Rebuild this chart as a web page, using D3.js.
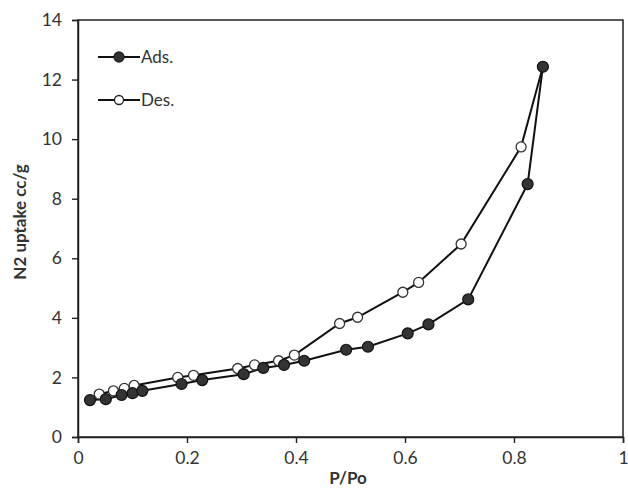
<!DOCTYPE html>
<html><head><meta charset="utf-8">
<script src="https://cdn.jsdelivr.net/npm/d3@7"></script>
<style>
body{margin:0;background:#fff;}
svg{display:block;}
text{font-family:Lato, "Open Sans", sans-serif;fill:#333;}
</style></head>
<body>
<svg id="c" width="628" height="488"></svg>
<script>
const adsX = [0.022,0.051,0.080,0.100,0.118,0.190,0.228,0.304,0.340,0.378,0.415,0.492,0.532,0.605,0.643,0.716,0.825,0.853];
const adsY = [1.24,1.27,1.41,1.47,1.55,1.78,1.91,2.11,2.32,2.42,2.56,2.93,3.03,3.48,3.78,4.62,8.49,12.43];
const desX = [0.039,0.065,0.085,0.103,0.183,0.212,0.293,0.324,0.368,0.397,0.480,0.513,0.596,0.625,0.703,0.813,0.853];
const desY = [1.44,1.55,1.63,1.73,2.00,2.07,2.30,2.42,2.56,2.75,3.81,4.02,4.86,5.19,6.48,9.74,12.43];
const xTicks = [0,0.2,0.4,0.6,0.8,1];
const xTickLabels = ["0","0.2","0.4","0.6","0.8","1"];
const yTicks = [0,2,4,6,8,10,12,14];
const seriesNames = ["Ads.","Des."];

const svg = d3.select("#c");
const L=78, R=623, T=20, B=437;
const x = d3.scaleLinear().domain([0,1]).range([L,R]);
const y = d3.scaleLinear().domain([0,14]).range([B,T]);

svg.append("rect").attr("x",L).attr("y",T).attr("width",R-L).attr("height",B-T)
  .attr("fill","none").attr("stroke","#222").attr("stroke-width",1.5);

const xAxis = svg.append("g").attr("transform",`translate(0,${B})`)
  .call(d3.axisBottom(x).tickValues(xTicks).tickFormat((d,i)=>xTickLabels[i]).tickSize(6).tickPadding(9));
const yAxis = svg.append("g").attr("transform",`translate(${L},0)`)
  .call(d3.axisLeft(y).tickValues(yTicks).tickFormat(d3.format("d")).tickSize(6).tickPadding(10));
[xAxis,yAxis].forEach(g=>{
  g.select(".domain").attr("stroke","#222").attr("stroke-width",1.5);
  g.selectAll(".tick line").attr("stroke","#222").attr("stroke-width",1.4);
  g.selectAll(".tick text").style("font-family","Lato, 'Open Sans', sans-serif").style("font-size","17.5px").attr("fill","#333");
});

svg.append("text").attr("x",348).attr("y",484).attr("text-anchor","middle")
  .style("font-size","17px").style("font-weight","bold").text("P/Po");
svg.append("text").attr("transform",`translate(26,222) rotate(-90)`).attr("text-anchor","middle")
  .style("font-size","17px").style("font-weight","bold").text("N2 uptake cc/g");

const line = d3.line().x(d=>x(d[0])).y(d=>y(d[1]));
const ads = adsX.map((v,i)=>[v,adsY[i]]);
const des = desX.map((v,i)=>[v,desY[i]]);

svg.append("path").datum(des).attr("d",line).attr("fill","none").attr("stroke","#111").attr("stroke-width",2);
svg.append("path").datum(ads).attr("d",line).attr("fill","none").attr("stroke","#111").attr("stroke-width",2);

svg.selectAll("circle.des").data(des).enter().append("circle").attr("class","des")
  .attr("cx",d=>x(d[0])).attr("cy",d=>y(d[1])).attr("r",5)
  .attr("fill","#fff").attr("stroke","#333").attr("stroke-width",1.3);
svg.selectAll("circle.ads").data(ads).enter().append("circle").attr("class","ads")
  .attr("cx",d=>x(d[0])).attr("cy",d=>y(d[1])).attr("r",5.5)
  .attr("fill","#333").attr("stroke","#111").attr("stroke-width",1.2);

const leg = svg.append("g");
seriesNames.forEach((n,i)=>{
  const ly = 57 + i*43;
  leg.append("line").attr("x1",98).attr("x2",140).attr("y1",ly).attr("y2",ly).attr("stroke","#111").attr("stroke-width",2);
  leg.append("circle").attr("cx",119).attr("cy",ly).attr("r",i===0?5:4.5)
    .attr("fill",i===0?"#333":"#fff").attr("stroke","#222").attr("stroke-width",1.3);
  leg.append("text").attr("x",141).attr("y",ly+6).style("font-size","17px").text(n);
});
</script>
</body></html>
